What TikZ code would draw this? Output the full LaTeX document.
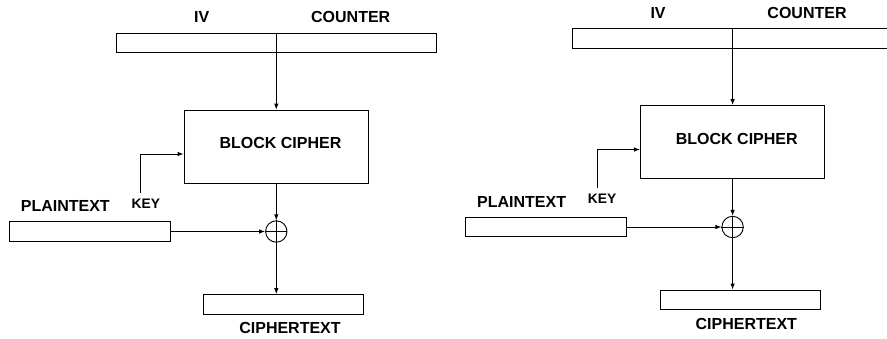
\documentclass[tikz,border=0pt]{standalone}
\usepackage{fontspec}
\setmainfont{Liberation Sans}
\usetikzlibrary{arrows.meta}
\tikzset{
  thin line/.style={line width=0.9pt},
  wire/.style={thin line, -{Latex[length=6pt,width=4.5pt]}},
  regbox/.style={draw, thin line, minimum height=19.5pt, inner sep=0pt},
  lbl/.style={inner sep=0pt, font=\bfseries\fontsize{16}{18}\selectfont},
  keylbl/.style={inner sep=0pt, font=\bfseries\fontsize{13.8}{16}\selectfont},
  xorgate/.style={draw, circle, thin line, minimum size=21.4pt, inner sep=0pt},
  % one CTR-mode encryption stage
  pics/ctrmode/.style={code={
    \node[regbox, minimum width=320.7pt] (-ctr) at (276.3,42.8) {};
    \node[lbl] (-iv) at (201.8,17.3) {IV};
    \node[lbl] (-counter) at (350.7,17.3) {COUNTER};
    \node[draw, thin line, minimum width=184.4pt, minimum height=73.3pt, inner sep=0pt]
      (-cipher) at (276.3,146.7) {};
    \node[lbl] (-cipherlbl) at (280.5,143.3) {BLOCK CIPHER};
    \coordinate (-keyend) at (140.7,192.7);
    \node[keylbl] (-key) at (145.8,203.3) {KEY};
    \node[xorgate] (-xor) at (276.3,231.5) {};
    \draw[thin line] (-xor.north) -- (-xor.south) (-xor.west) -- (-xor.east);
    \node[regbox, minimum width=160.7pt] (-plain) at (89.7,231.5) {};
    \node[lbl] (-plainlbl) at (65.3,206) {PLAINTEXT};
    \node[regbox, minimum width=160pt] (-out) at (283.7,304.3) {};
    \node[lbl] (-outlbl) at (290,328.3) {CIPHERTEXT};
    \draw[wire] (-ctr.north) -- (-cipher.north);
    \draw[wire] (-keyend) |- ([yshift=-7.3pt]-cipher.west);
    \draw[wire] (-cipher.south) -- (-xor.north);
    \draw[wire] (-plain.east) -- (-xor.west);
    \draw[wire] (-xor.south) -- (-xor.south |- -out.north);
  }}
}
\begin{document}
\begin{tikzpicture}[x=1pt,y=-1pt]
  \useasboundingbox (0,0) rectangle (887,338);
  \pic (L) at (0,0) {ctrmode};
  \pic (R) at (456.3,-4.5) {ctrmode};
\end{tikzpicture}
\end{document}
